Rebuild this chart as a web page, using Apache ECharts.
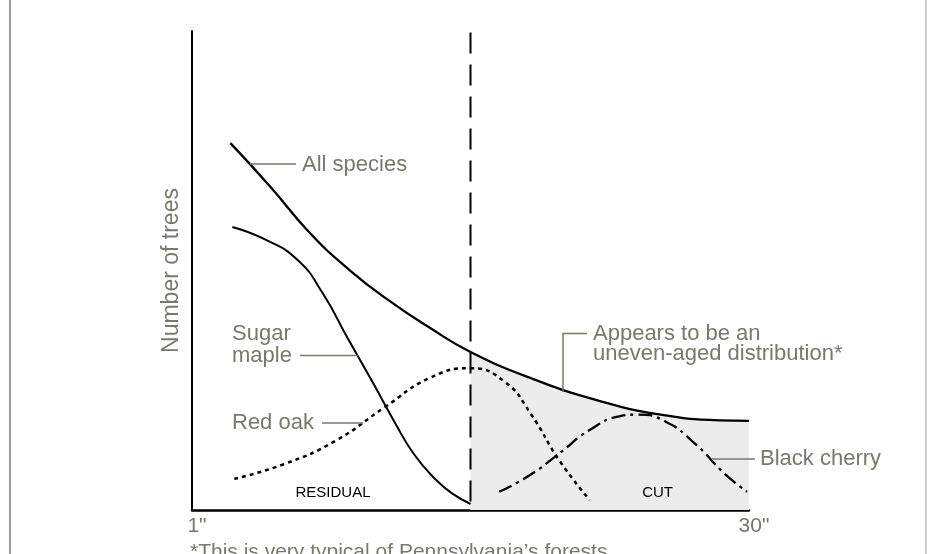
<!DOCTYPE html>
<html>
<head>
<meta charset="utf-8">
<script src="https://cdn.jsdelivr.net/npm/echarts@6/dist/echarts.min.js"></script>
<style>
  html, body { margin: 0; padding: 0; background: #fff; }
  #main { width: 927px; height: 554px; }
</style>
</head>
<body>
<div id="main"></div>
<script>
// diameter (inches) vs relative number of trees
const cutX = 15.5
const allSpecies = [
  [3.0, 76.6], [5.1, 67.4], [7.1, 58.0], [9.2, 50.1], [11.3, 43.6], [13.4, 38.0],
  [15.5, 33.0], [18.6, 27.6], [22.2, 22.8], [25.4, 19.9], [28.5, 18.7], [30, 18.6]
]
const sugarMaple = [
  [3.1, 59.1], [4.8, 56.5], [6.5, 52.2], [7.8, 45.3], [9.1, 35.9], [10.4, 26.7],
  [11.5, 18.7], [12.55, 11.7], [13.7, 6.3], [14.6, 3.3], [15.5, 1.25]
]
const redOak = [
  [3.2, 6.5], [5.8, 9.6], [8.45, 14.4], [11.05, 21.5], [13.4, 27.6], [15.5, 29.6],
  [17.3, 26.7], [18.6, 20.3], [20.15, 10.2], [21.7, 2.1]
]
const blackCherry = [
  [17.0, 3.8], [18.6, 7.3], [20.15, 11.9], [21.7, 16.7], [23.3, 19.6], [24.15, 19.9],
  [25.6, 18.6], [27.2, 13.8], [28.75, 7.5], [29.9, 3.8]
]
const cutLine = [[cutX, 99.7], [cutX, 1.0]]
const xTicks = [1, 30]

const grey = '#78786c'
const font = 'Liberation Sans, Arial, Helvetica, sans-serif'

const myChart = echarts.init(document.getElementById('main'))

function txt(x, y, s, opt) {
  return {
    type: 'text', x: x, y: y, z: 20,
    style: Object.assign({
      text: s, fill: grey, font: '22px ' + font,
      verticalAlign: 'middle', align: 'left'
    }, opt || {})
  }
}
function seg(pts) {
  return {
    type: 'polyline', z: 20,
    shape: { points: pts },
    style: { stroke: grey, lineWidth: 1.5, fill: null }
  }
}
function curve(name, data, style) {
  return {
    name: name, type: 'line', z: 5,
    data: data, smooth: 0.5, symbol: 'none',
    lineStyle: Object.assign({ color: '#000', width: 2 }, style)
  }
}

myChart.setOption({
  animation: false,
  grid: { left: 192, right: 178, top: 31, bottom: 44, outerBoundsMode: 'none' },
  xAxis: {
    type: 'value', min: 1, max: 30,
    splitLine: { show: false },
    axisTick: { show: false },
    axisLine: { show: true, lineStyle: { color: '#000', width: 2.5 } },
    axisLabel: {
      customValues: xTicks,
      formatter: v => v + '"',
      color: grey, fontSize: 21, fontFamily: font,
      margin: 6, padding: [0, 0, 0, 10]
    }
  },
  yAxis: {
    type: 'value', min: 0, max: 100,
    name: 'Number of trees', nameLocation: 'middle', nameRotate: 90, nameGap: 9,
    nameTextStyle: { color: grey, fontSize: 23, fontFamily: font },
    splitLine: { show: false },
    axisTick: { show: false },
    axisLabel: { show: false },
    axisLine: { show: true, lineStyle: { color: '#000', width: 2 } }
  },
  series: [
    {
      name: 'cut', type: 'line', z: 1,
      data: allSpecies.filter(p => p[0] >= cutX),
      smooth: 0.5, symbol: 'none',
      lineStyle: { width: 0, opacity: 0 },
      areaStyle: { color: '#ececec', opacity: 1 }
    },
    curve('All species', allSpecies, { width: 2.3 }),
    curve('Sugar maple', sugarMaple, { width: 2 }),
    curve('Red oak', redOak, { width: 2.5, type: [4, 4] }),
    curve('Black cherry', blackCherry, { width: 2.3, type: [14, 5, 3, 5] }),
    {
      name: 'cut line', type: 'line', z: 6,
      data: cutLine, symbol: 'none',
      lineStyle: { color: '#000', width: 2, type: [21, 11] }
    }
  ],
  graphic: [
    { type: 'rect', shape: { x: 9, y: 0, width: 2, height: 554 }, style: { fill: '#9a9a9a' } },
    { type: 'rect', shape: { x: 925, y: 0, width: 2, height: 554 }, style: { fill: '#d0d0d0' } },
    seg([[250, 164], [296, 164]]),
    txt(302, 164.5, 'All species'),
    txt(232, 334, 'Sugar'),
    txt(232, 355.5, 'maple'),
    seg([[300, 355.5], [358, 355.5]]),
    txt(232, 423, 'Red oak'),
    seg([[322, 423], [363, 423]]),
    seg([[563, 392], [563, 333.5], [587, 333.5]]),
    txt(593, 333.5, 'Appears to be an'),
    txt(593, 353.5, 'uneven-aged distribution*'),
    seg([[712, 459], [755, 459]]),
    txt(760, 459, 'Black cherry'),
    txt(333, 492.5, 'RESIDUAL', { fill: '#000', font: '15px ' + font, align: 'center' }),
    txt(657.6, 492.5, 'CUT', { fill: '#000', font: '15px ' + font, align: 'center' }),
    txt(190, 552, '*This is very typical of Pennsylvania’s forests.', { font: '21px ' + font })
  ]
})
</script>
</body>
</html>
